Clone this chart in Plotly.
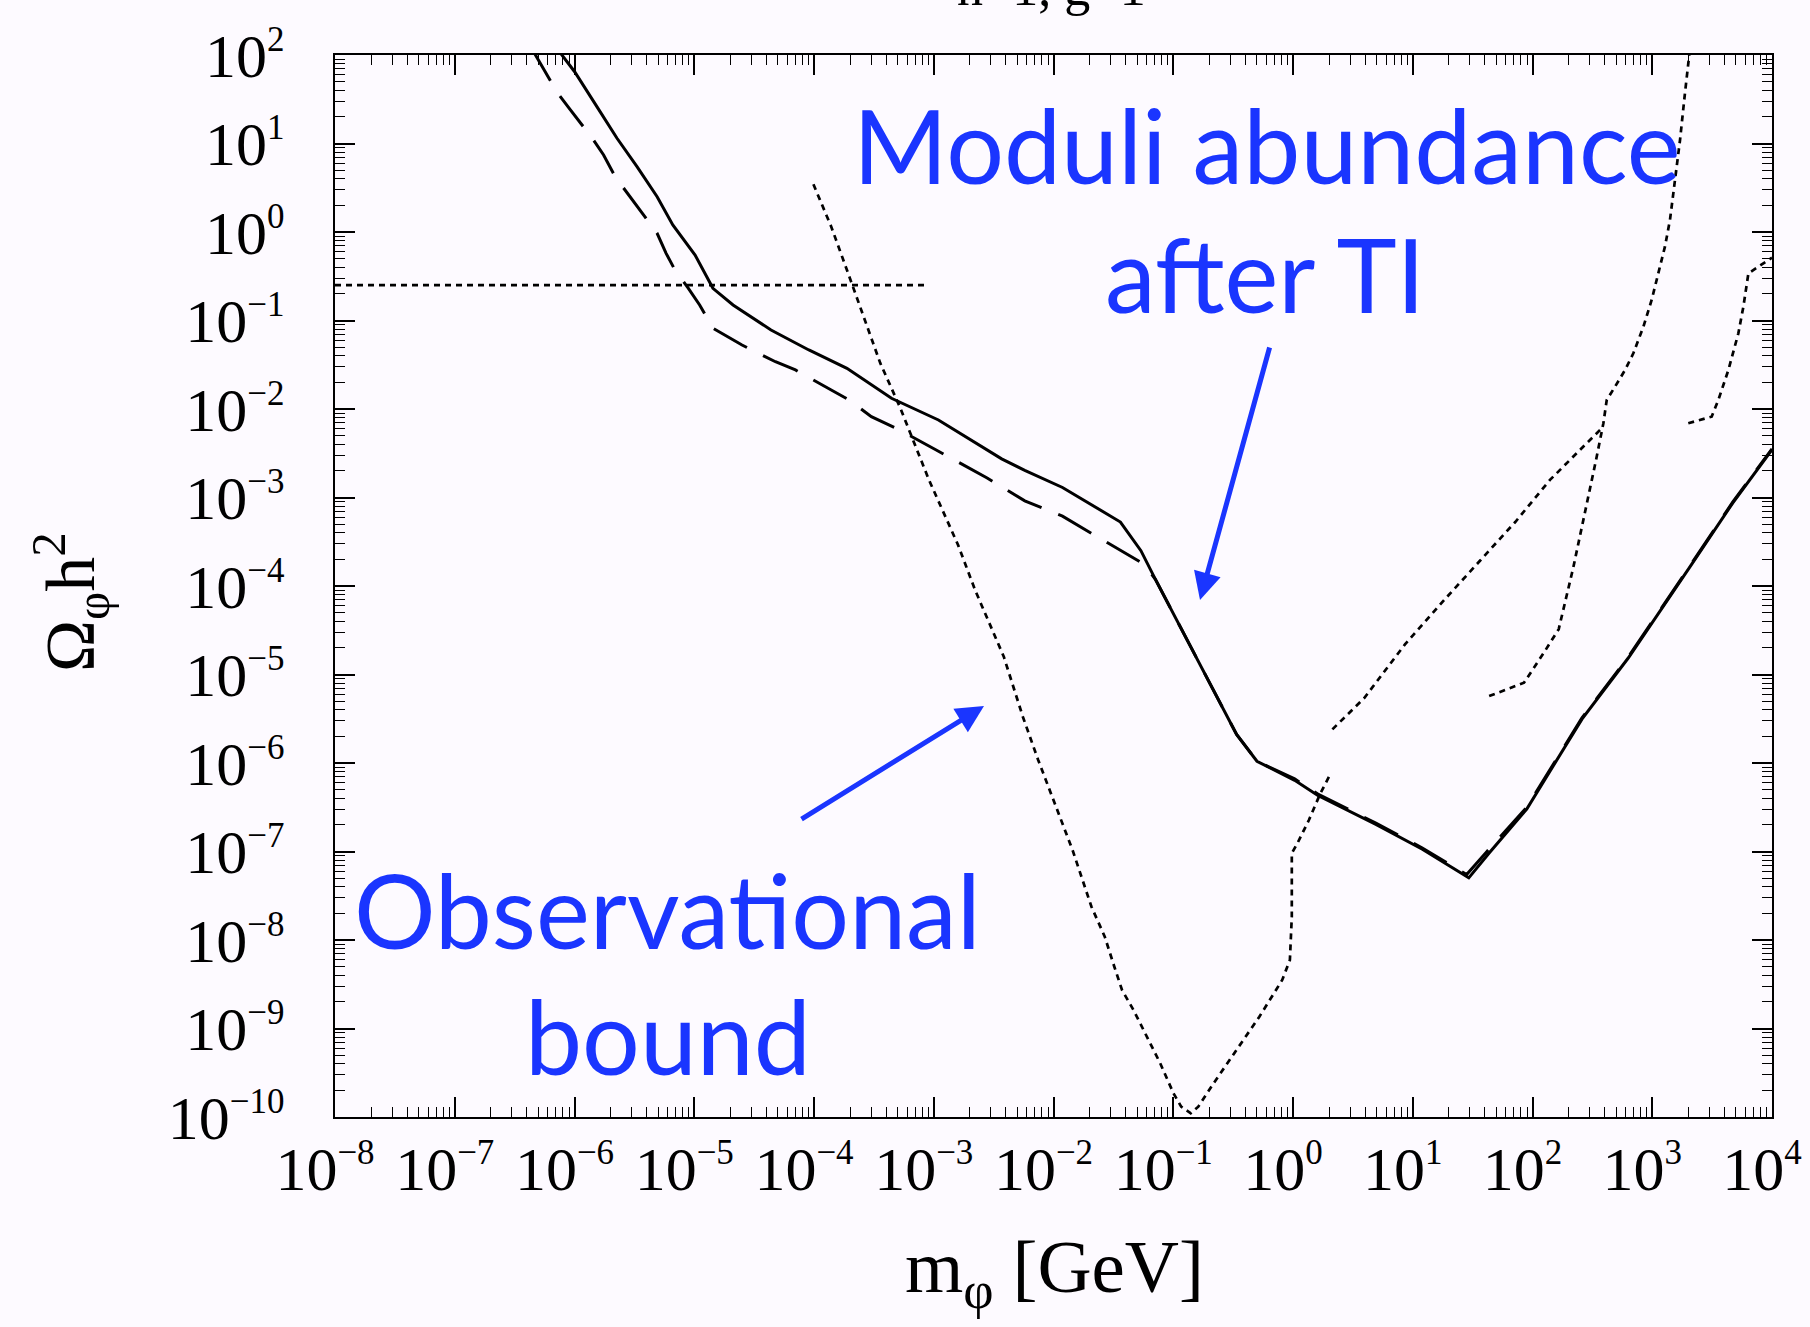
import plotly.graph_objects as go

# ---------------- data (log10 values) ----------------
# solid curve: moduli abundance after thermal inflation
solid_log_m = [-6.15, -5.999, -5.813, -5.645, -5.478, -5.310, -5.179, -4.993, -4.844, -4.676,
               -4.359, -4.043, -3.725, -3.353, -2.961, -2.433, -2.240, -1.925, -1.441, -1.270,
               -1.149, -0.762, -0.471, -0.301, 0.014, 0.208, 0.692, 1.080, 1.468, 1.638,
               1.952, 2.413, 2.801, 3.309, 3.673, 4.0]
solid_log_omega = [2.08, 1.811, 1.416, 1.059, 0.738, 0.399, 0.079, -0.26, -0.636, -0.825,
                   -1.107, -1.333, -1.540, -1.879, -2.124, -2.563, -2.693, -2.887, -3.277, -3.601,
                   -3.925, -4.920, -5.677, -5.980, -6.196, -6.368, -6.693, -6.974, -7.298, -7.017,
                   -6.520, -5.504, -4.811, -3.795, -3.060, -2.46]

# dashed curve
dashed_log_m = [-6.36, -6.149, -6.055, -5.851, -5.757, -5.645, -5.589, -5.496, -5.310, -5.235,
                -5.161, -5.049, -4.955, -4.844, -4.751, -4.601, -4.322, -4.155, -3.856, -3.707,
                -3.521, -3.282, -2.991, -2.554, -2.240, -1.925, -1.683, -1.246, -1.149, -0.762,
                -0.471, -0.301, 0.014, 0.208, 0.692, 1.080, 1.45, 1.62, 1.952, 2.413,
                2.801, 3.309, 3.673, 4.0]
dashed_log_omega = [2.08, 1.586, 1.416, 1.059, 0.870, 0.588, 0.494, 0.324, -0.015, -0.241,
                    -0.429, -0.636, -0.825, -1.088, -1.164, -1.277, -1.466, -1.559, -1.785, -1.898,
                    -2.087, -2.239, -2.455, -2.780, -3.038, -3.211, -3.405, -3.752, -3.925, -4.920,
                    -5.677, -5.980, -6.180, -6.350, -6.680, -6.960, -7.260, -7.000, -6.500, -5.490,
                    -4.800, -3.785, -3.050, -2.45]

# dotted: observational bounds
hline_log_m = [-8.0, -3.05]
hline_log_omega = [-0.6, -0.6]

vbound_log_m = [-4.005, -3.856, -3.725, -3.595, -3.446, -3.282, -3.040, -2.797, -2.652, -2.415,
                -2.256, -2.128, -1.969, -1.841, -1.683, -1.572, -1.492, -1.428, -1.332, -1.237,
                -1.109, -0.998, -0.934, -0.854, -0.791, -0.663, -0.472, -0.281, -0.090, -0.026,
                -0.010, -0.010, 0.037, 0.133, 0.229, 0.308]
vbound_log_omega = [0.539, 0.060, -0.429, -0.919, -1.484, -1.980, -2.801, -3.536, -4.055, -4.799,
                    -5.477, -5.966, -6.531, -6.983, -7.624, -7.962, -8.302, -8.565, -8.791, -9.054,
                    -9.393, -9.732, -9.883, -9.958, -9.883, -9.619, -9.243, -8.867, -8.452, -8.226,
                    -7.737, -7.020, -6.907, -6.644, -6.342, -6.136]

diag_log_m = [0.329, 0.595, 0.935, 1.274, 1.565, 1.856, 2.146, 2.388, 2.564]
diag_log_omega = [-5.620, -5.266, -4.660, -4.141, -3.709, -3.277, -2.801, -2.477, -2.237]

steep_log_m = [1.638, 1.929, 2.098, 2.219, 2.340, 2.437, 2.53, 2.592, 2.620, 2.689,
               2.773, 2.842, 2.926, 2.995, 3.051, 3.106, 3.148, 3.190, 3.232, 3.273, 3.309]
steep_log_omega = [-5.244, -5.093, -4.747, -4.487, -3.795, -3.190, -2.58, -2.161, -1.898, -1.748,
                   -1.559, -1.371, -1.070, -0.768, -0.467, -0.166, 0.136, 0.588, 1.040, 1.567, 2.0]

right_log_m = [3.301, 3.496, 3.552, 3.636, 3.719, 3.761, 3.803, 3.886, 3.983, 4.0]
right_log_omega = [-2.161, -2.087, -1.898, -1.559, -1.145, -0.844, -0.467, -0.392, -0.297, -0.29]

# axis ticks (decade exponents and their printed exponent strings)
x_tick_exp = [-8, -7, -6, -5, -4, -3, -2, -1, 0, 1, 2, 3, 4]
x_tick_sup = ["−8", "−7", "−6", "−5", "−4", "−3", "−2", "−1", "0", "1", "2", "3", "4"]
y_tick_exp = [-10, -9, -8, -7, -6, -5, -4, -3, -2, -1, 0, 1, 2]
y_tick_sup = ["−10", "−9", "−8", "−7", "−6", "−5", "−4", "−3", "−2", "−1", "0", "1", "2"]

# ---------------- figure ----------------
BG = "#fdfaff"
BLUE = "#1a35ff"
SERIF = "Liberation Serif"
SANS = "Lato"
SUPSIZE = 35


def power_label(s):
    return "10<sup><span style='font-size:%dpx'>%s</span></sup>" % (SUPSIZE, s)


fig = go.Figure()


def add_curve(lx, ly, dash, width):
    fig.add_trace(go.Scatter(
        x=[10 ** v for v in lx], y=[10 ** v for v in ly], mode="lines",
        line=dict(color="black", width=width, dash=dash),
        showlegend=False, hoverinfo="skip"))


DOT = "6px,5px"
add_curve(hline_log_m, hline_log_omega, DOT, 2.7)
add_curve(vbound_log_m, vbound_log_omega, DOT, 2.7)
add_curve(diag_log_m, diag_log_omega, DOT, 2.7)
add_curve(steep_log_m, steep_log_omega, DOT, 2.7)
add_curve(right_log_m, right_log_omega, DOT, 2.7)
add_curve(dashed_log_m, dashed_log_omega, "38px,18px", 3)
add_curve(solid_log_m, solid_log_omega, "solid", 3)

L, R, T, B = 335, 38, 55, 210
W, H = 1810, 1327
PW, PH = W - L - R, H - T - B


def px(x):
    return (x - L) / PW


def py(y):
    return (H - B - y) / PH


axis_common = dict(
    type="log", showgrid=False, zeroline=False, automargin=False,
    showline=True, linecolor="black", linewidth=2, mirror="allticks",
    ticks="inside", ticklen=20, tickwidth=1.5, tickcolor="black",
    tickmode="array", ticklabeloverflow="allow",
    tickfont=dict(family=SERIF, size=62, color="black"),
    minor=dict(ticks="inside", ticklen=10, tickwidth=1, tickcolor="black", dtick="D1", showgrid=False),
)

fig.update_layout(
    width=W, height=H, autosize=False,
    margin=dict(l=L, r=R, t=T, b=B, pad=0, autoexpand=False),
    paper_bgcolor=BG, plot_bgcolor=BG,
    xaxis=dict(axis_common, range=[-8, 4],
               tickvals=[10 ** e for e in x_tick_exp],
               ticktext=[power_label(s) for s in x_tick_sup],
               ticklabelstandoff=-3, ticklabelshift=-10),
    yaxis=dict(axis_common, range=[-10, 2],
               tickvals=[10 ** e for e in y_tick_exp],
               ticktext=[power_label(s) for s in y_tick_sup],
               ticklabelstandoff=36),
)

ann = []
# partially visible title at the very top
ann.append(dict(text="n=1, g=1", xref="paper", yref="paper", x=px(1051), y=1,
                xanchor="center", yanchor="bottom", yshift=37, showarrow=False,
                font=dict(family=SERIF, size=52, color="black")))
# axis titles
ann.append(dict(text="m<sub>φ</sub> [GeV]", xref="paper", yref="paper", x=px(1054), y=py(1223),
                xanchor="center", yanchor="top", showarrow=False,
                font=dict(family=SERIF, size=75, color="black")))
ann.append(dict(text="Ω<sub>φ</sub>h<sup>2</sup>", xref="paper", yref="paper", x=px(71), y=py(602),
                xanchor="center", yanchor="middle", textangle=-90, showarrow=False,
                font=dict(family=SERIF, size=70, color="black")))
# blue labels
for txt, cx, cy in [("Moduli abundance", 1267, 144), ("after TI", 1265, 273),
                    ("Observational", 667, 909), ("bound", 668, 1035)]:
    ann.append(dict(text=txt, xref="paper", yref="paper", x=px(cx), y=py(cy),
                    xanchor="center", yanchor="middle", showarrow=False,
                    font=dict(family=SANS, size=102, color=BLUE)))
# arrows
for tipx, tipy, tailx, taily in [(1200, 600, 1270, 346), (984, 706, 800, 820)]:
    ann.append(dict(text="", xref="paper", yref="paper", x=px(tipx), y=py(tipy),
                    ax=tailx - tipx, ay=taily - tipy, axref="pixel", ayref="pixel",
                    showarrow=True, arrowhead=2, arrowsize=1.1, arrowwidth=5,
                    arrowcolor=BLUE, standoff=0, startstandoff=0))
fig.update_layout(annotations=ann)

fig.write_html("out.html")
